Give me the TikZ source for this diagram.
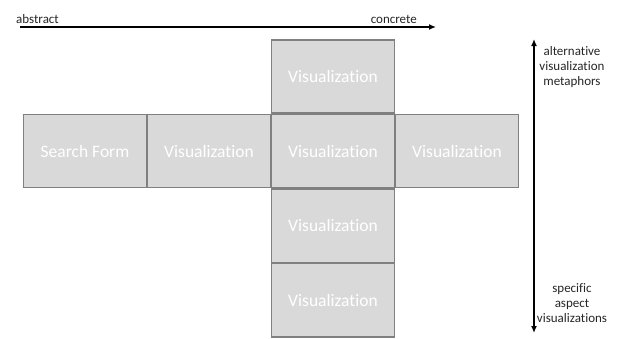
\documentclass[tikz,border=0pt]{standalone}
\usepackage{fontspec}
\setmainfont{Carlito}[Ligatures=NoCommon]
\usetikzlibrary{positioning,arrows.meta}

\tikzset{
  viewbox/.style={rectangle, draw=black!50, line width=1.4pt, fill=black!15,
    minimum width=122.6pt, minimum height=73.2pt, inner sep=0pt,
    text=white, font=\fontsize{17.5}{20}\selectfont},
  axislabel/.style={font=\fontsize{13}{15}\selectfont, text=black!85, inner sep=0pt, align=center}
}

\begin{document}
\begin{tikzpicture}[x=1pt, y=-1pt, >={Latex[length=7pt,width=6pt]}, node distance=0pt]
\useasboundingbox (0,0) rectangle (622,338);

% central column and row of views
\path
(333,151) node[viewbox] (center) {Visualization}
;
\node[viewbox, above=of center] (top) {Visualization};
\node[viewbox, below=of center] (below1) {Visualization};
\node[viewbox, below=of below1] (below2) {Visualization};
\node[viewbox, left=of center] (left) {Visualization};
\node[viewbox, left=of left] (form) {Search Form};
\node[viewbox, right=of center] (right) {Visualization};

% abstract -> concrete axis
\coordinate (absstart) at (20,27);
\coordinate (absend) at (436,27);
\draw[->, line width=1.3pt] (absstart) -- (absend);
\node[axislabel, anchor=base west] (abstract) at (16,23) {abstract};
\node[axislabel, anchor=base east] (concrete) at (417,23) {concrete};

% metaphor -> aspect axis
\coordinate (vtop) at (534,39);
\coordinate (vbot) at (534,333);
\draw[<->, line width=1.3pt] (vtop) -- (vbot);
\node[axislabel, anchor=north] (metaphors) at (572,46) {alternative\\visualization\\metaphors};
\node[axislabel, anchor=south] (aspects) at (572,323) {specific\\aspect\\visualizations};

\end{tikzpicture}
\end{document}
